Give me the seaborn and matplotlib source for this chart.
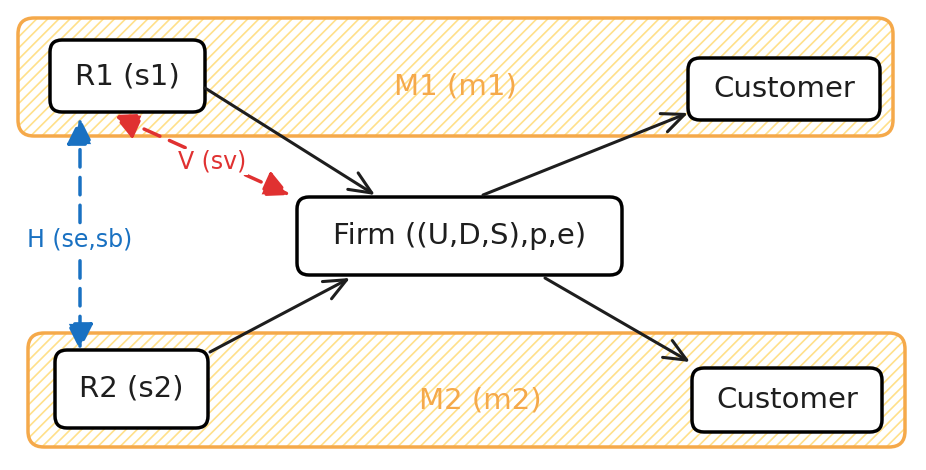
import matplotlib
matplotlib.use("Agg")
import matplotlib.pyplot as plt
from matplotlib.patches import FancyBboxPatch, FancyArrowPatch
import seaborn as sns

sns.set_theme(style="white")
plt.rcParams['font.family'] = ['DejaVu Sans']
plt.rcParams['hatch.linewidth'] = 1.2

# groups: name, x0, y0, x1, y1, label position
groups = ["M1 (m1)", "M2 (m2)"]
group_boxes = [(18, 18, 893, 136), (28, 333, 905, 447)]
group_labels = [(455, 86), (480, 400)]

# nodes: label, box
nodes = ["R1 (s1)", "R2 (s2)", "Customer", "Customer", "Firm ((U,D,S),p,e)"]
node_boxes = [(50, 40, 205, 112), (55, 350, 208, 428), (688, 58, 880, 120),
              (692, 368, 882, 432), (297, 197, 622, 275)]

# flows (solid black)
flows = [((205, 88), (375, 195)), ((210, 352), (350, 278)),
         ((483, 195), (688, 113)), ((545, 278), (690, 362))]

# dashed relations
relations = ["V (sv)", "H (se,sb)"]
relation_lines = [((290, 195), (113, 115)), ((80, 118), (80, 350))]
relation_colors = ["#e03131", "#1971c2"]
relation_labels = [(212, 162), (80, 240)]

orange = "#f5a94a"

fig = plt.figure(figsize=(9.26, 4.70), dpi=100)
ax = fig.add_axes([0, 0, 1, 1])
ax.set_xlim(0, 926)
ax.set_ylim(470, 0)
ax.axis("off")

for name, (x0, y0, x1, y1), (lx, ly) in zip(groups, group_boxes, group_labels):
    ax.add_patch(FancyBboxPatch((x0, y0), x1 - x0, y1 - y0,
                                boxstyle="round,pad=0,rounding_size=16",
                                facecolor="white", edgecolor="#ffe08a",
                                hatch="///", linewidth=0))
    ax.add_patch(FancyBboxPatch((x0, y0), x1 - x0, y1 - y0,
                                boxstyle="round,pad=0,rounding_size=16",
                                facecolor="none", edgecolor=orange, linewidth=2.5))
    ax.text(lx, ly, name, color=orange, fontsize=21, ha="center", va="center")

for name, (x0, y0, x1, y1) in zip(nodes, node_boxes):
    ax.add_patch(FancyBboxPatch((x0, y0), x1 - x0, y1 - y0,
                                boxstyle="round,pad=0,rounding_size=12",
                                facecolor="white", edgecolor="black", linewidth=2.5))
    ax.text((x0 + x1) / 2, (y0 + y1) / 2, name, color="#1e1e1e", fontsize=21,
            ha="center", va="center")

for start, end in flows:
    ax.add_patch(FancyArrowPatch(start, end, arrowstyle="->,head_length=16,head_width=7",
                                 color="#1e1e1e", linewidth=2.2, mutation_scale=1,
                                 shrinkA=0, shrinkB=0, capstyle="round"))

for name, (start, end), c, (lx, ly) in zip(relations, relation_lines,
                                            relation_colors, relation_labels):
    ax.add_patch(FancyArrowPatch(start, end, arrowstyle="<|-|>,head_length=16,head_width=8",
                                 color=c, linewidth=2.5, linestyle=(0, (5, 3)),
                                 mutation_scale=1, shrinkA=0, shrinkB=0))
    ax.text(lx, ly, name, color=c, fontsize=17, ha="center", va="center",
            bbox=dict(facecolor="white", edgecolor="none", pad=1))

fig.savefig("out.png", dpi=100)
